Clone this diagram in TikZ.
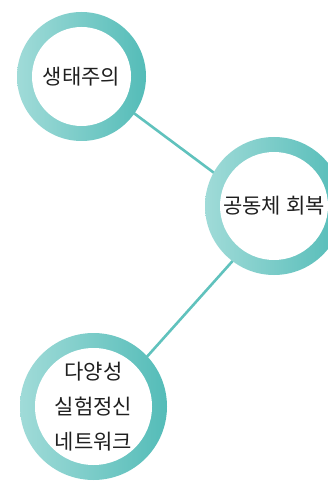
\documentclass[tikz,border=0pt]{standalone}
\usepackage{fontspec}
\usepackage{tikz}
\usetikzlibrary{backgrounds}
\newfontfamily\kofont{Noto Sans CJK KR}
\definecolor{ringdark}{RGB}{84,188,184}
\definecolor{ringlight}{RGB}{160,219,216}
\definecolor{linkcolor}{RGB}{96,194,189}
\tikzset{
    topic/.style = {circle, minimum size=#1, inner sep=0pt, align=center,
                    font=\kofont\fontsize{21}{35}\selectfont, text=black!88,
                    left color=ringlight, right color=ringdark,
                    path picture={\fill[white] (path picture bounding box.center)
                        circle[radius=#1/2-15pt];}},
    link/.style  = {linkcolor, line width=2.6pt, shorten <=-3pt, shorten >=-3pt},
}
\begin{document}
\begin{tikzpicture}[x=1pt, y=-1pt]
\useasboundingbox (0,0) rectangle (327,481);

\node[topic=129pt] (eco)  at (81.5,76.5) {생태주의};
\node[topic=138pt] (comm) at (274,206)   {공동체 회복};
\node[topic=147pt] (div)  at (93.5,406.5)
    {다양성\\실험정신\\네트워크};

\begin{scope}[on background layer]
\draw[link] (eco.-35) -- (comm.151);
\draw[link] (comm.233) -- (div.43);
\end{scope}

\end{tikzpicture}
\end{document}
